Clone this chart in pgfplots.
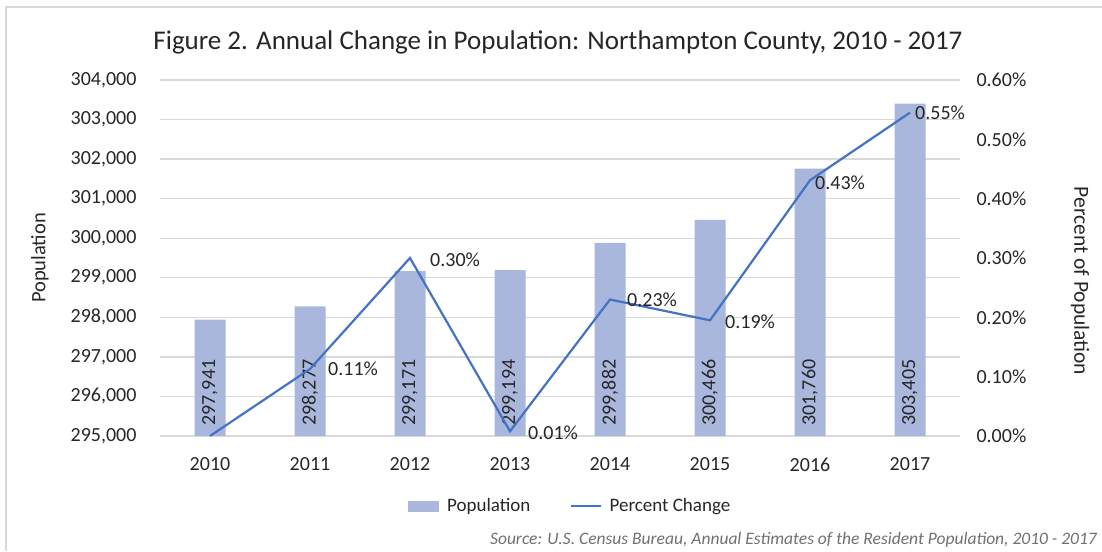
\documentclass[border=0pt]{standalone}
\usepackage{pgfplots}
\pgfplotsset{compat=1.18}
\usepackage{fontspec}
\setmainfont{Carlito}
\definecolor{barcol}{HTML}{A9B7DC}
\definecolor{linecol}{HTML}{4472C4}
\definecolor{gridcol}{HTML}{D9D9D9}
\definecolor{txt}{HTML}{262626}
\definecolor{srccol}{HTML}{707070}
\begin{document}
\begin{tikzpicture}[x=1pt,y=1pt]
\useasboundingbox (0,0) rectangle (1102,551);
\draw[gridcol, line width=1.5pt] (6,0) -- (6,544) -- (1102,544);
\begin{axis}[at={(160pt,115pt)}, anchor=south west, width=800pt, height=356pt, scale only axis,
  xmin=-0.5, xmax=7.5, ymin=295000, ymax=304000,
  ytick={295000,296000,297000,298000,299000,300000,301000,302000,303000,304000},
  xtick={0,1,2,3,4,5,6,7}, xticklabels={2010,2011,2012,2013,2014,2015,2016,2017},
  scaled y ticks=false,
  yticklabel={\pgfmathprintnumber[fixed,precision=0,1000 sep={,},assume math mode=true]{\tick}},
  axis line style={draw=none},
  major tick length=0pt,
  ymajorgrids, grid style={gridcol, line width=1.3pt},
  tick label style={font=\fontsize{20}{24}\selectfont, text=txt},
  yticklabel style={xshift=-20pt},
  xticklabel style={yshift=-18pt},
]
\addplot[ybar, bar width=31pt, fill=barcol, draw=none] coordinates {
  (0,297941) (1,298277) (2,299171) (3,299194) (4,299882) (5,300466) (6,301760) (7,303405)};
\addplot[draw=none, mark=none, nodes near coords={\pgfplotspointmeta}, point meta=explicit symbolic,
  nodes near coords style={rotate=90, anchor=west, inner sep=0pt, font=\fontsize{20}{24}\selectfont, text=txt}]
  table[meta=lab] {
x y lab
0 295260 297,941
1 295260 298,277
2 295260 299,171
3 295260 299,194
4 295260 299,882
5 295260 300,466
6 295260 301,760
7 295260 303,405
};
\end{axis}
\begin{axis}[at={(160pt,115pt)}, anchor=south west, width=800pt, height=356pt, scale only axis,
  xmin=-0.5, xmax=7.5, ymin=0, ymax=0.6,
  ytick={0,0.1,0.2,0.3,0.4,0.5,0.6}, xtick=\empty,
  yticklabel pos=right,
  yticklabel={\pgfmathprintnumber[fixed,fixed zerofill,precision=2,assume math mode=true]{\tick}\%},
  axis line style={draw=none},
  major tick length=0pt,
  tick label style={font=\fontsize{20}{24}\selectfont, text=txt},
  yticklabel style={xshift=13pt},
  legend style={at={(0.5125,-0.197)}, anchor=center, draw=none, fill=none,
    legend columns=2, font=\fontsize{19}{22}\selectfont, text=txt,
    /tikz/every even column/.append style={column sep=37pt}},
]
\addlegendimage{legend image code/.code={\fill[barcol] (0pt,-5pt) rectangle (30pt,5pt); \path (37pt,0pt);}}
\addlegendentry{Population}
\addplot[linecol, line width=2.2pt, mark=none,
  legend image code/.code={\draw[linecol, line width=2.2pt] (0pt,0pt) -- (30pt,0pt); \path (36pt,0pt);}] coordinates {
  (0,0) (1,0.113) (2,0.300) (3,0.008) (4,0.230) (5,0.195) (6,0.431) (7,0.545)};
\addlegendentry{Percent Change}
\addplot[draw=none, mark=none, nodes near coords={\pgfplotspointmeta\%}, point meta=explicit symbolic,
  nodes near coords style={anchor=west, inner sep=0pt, font=\fontsize{20}{24}\selectfont, text=txt}]
  table[meta=lab] {
x y lab
1.18 0.113 0.11
2.20 0.297 0.30
3.18 0.005 0.01
4.17 0.229 0.23
5.15 0.192 0.19
6.05 0.427 0.43
7.05 0.545 0.55
};
\end{axis}
\node[font=\fontsize{27}{32}\selectfont, text=txt] at (558,509) {Figure 2. Annual Change in Population: Northampton County, 2010 - 2017};
\node[rotate=90, font=\fontsize{20.5}{24}\selectfont, text=txt] at (40,293) {Population};
\node[rotate=-90, font=\fontsize{21.5}{24}\selectfont, text=txt] at (1080,270) {Percent of Population};
\node[anchor=east, inner sep=0pt, font=\fontsize{17.5}{20}\selectfont\itshape, text=srccol] at (1097,11) {Source: U.S. Census Bureau, Annual Estimates of the Resident Population, 2010 - 2017};
\end{tikzpicture}
\end{document}
